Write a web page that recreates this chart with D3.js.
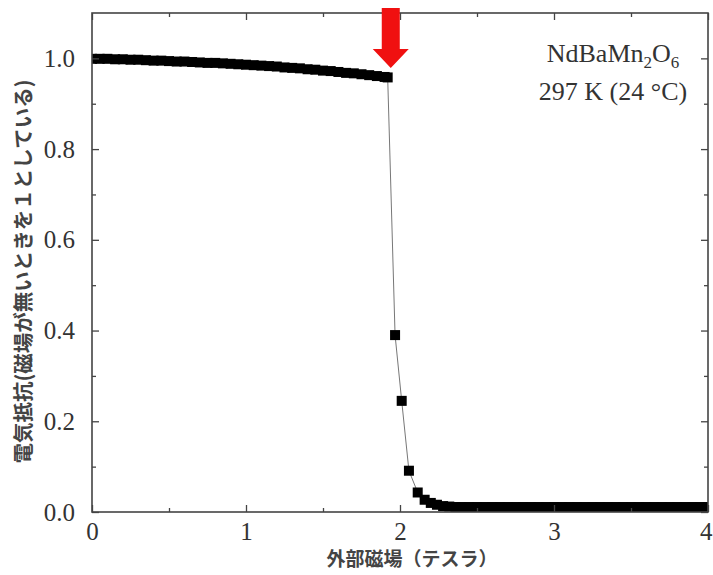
<!DOCTYPE html>
<html><head><meta charset="utf-8">
<script src="https://cdn.jsdelivr.net/npm/d3@7"></script>
<style>body{margin:0;background:#fff}svg{display:block}</style>
</head><body><svg id="c" width="713" height="575"></svg>
<script>
// ---- data ----
const fieldT = [
  0.00,0.05,0.10,0.15,0.20,0.25,0.30,0.35,0.40,0.45,0.50,0.55,0.60,0.65,0.70,0.75,0.80,0.85,0.90,0.95,
  1.00,1.05,1.10,1.15,1.20,1.25,1.30,1.35,1.40,1.45,1.50,1.55,1.60,1.65,1.70,1.75,1.80,1.85,1.90,1.92,
  1.968,2.011,2.058,2.115,2.16,2.20,2.24,2.28,2.32,2.36,2.40,
  2.45,2.50,2.55,2.60,2.65,2.70,2.75,2.80,2.85,2.90,2.95,3.00,3.05,3.10,3.15,3.20,
  3.25,3.30,3.35,3.40,3.45,3.50,3.55,3.60,3.65,3.70,3.75,3.80,3.85,3.90,3.95,4.00
];
const resistance = [
  0.999,0.999,0.999,0.998,0.998,0.997,0.997,0.996,0.995,0.995,0.994,0.993,0.993,0.992,0.991,0.990,0.990,0.989,0.988,0.987,
  0.986,0.985,0.984,0.983,0.982,0.980,0.979,0.978,0.976,0.975,0.973,0.972,0.970,0.968,0.967,0.965,0.963,0.961,0.959,0.958,
  0.390,0.245,0.091,0.043,0.027,0.020,0.016,0.013,0.012,0.011,0.011,
  0.011,0.011,0.011,0.011,0.011,0.011,0.011,0.011,0.011,0.011,0.011,0.011,0.011,0.011,0.011,0.011,
  0.011,0.011,0.011,0.011,0.011,0.011,0.011,0.011,0.011,0.011,0.011,0.011,0.011,0.011,0.011,0.011
];
const xTicks = [0,1,2,3,4];
const xMinorTicks = [0.5,1.5,2.5,3.5];
const yTicks = [0.0,0.2,0.4,0.6,0.8,1.0];
const yMinorTicks = [0.1,0.3,0.5,0.7,0.9];
const xTitle = "外部磁場（テスラ）";
const yTitle = "電気抵抗(磁場が無いときを１としている)";
const arrowField = 1.94;
const arrowTipValue = 0.979;

// ---- layout ----
const svg = d3.select("#c");
const L = 92, R = 708, T = 13, B = 512;
const x = d3.scaleLinear().domain([0,4]).range([L,R]);
const y = d3.scaleLinear().domain([0,1.1]).range([B,T]);
const axisColor = "#444";
const serif = "'Liberation Serif','Times New Roman',serif";
const jp = "'Noto Sans CJK JP','Noto Sans',sans-serif";

svg.append("defs").append("clipPath").attr("id","clip")
  .append("rect").attr("x",L).attr("y",T).attr("width",R-L).attr("height",B-T);

const data = fieldT.map((f,i)=>({f, r: resistance[i]}));

const plot = svg.append("g").attr("clip-path","url(#clip)");
plot.append("path").datum(data)
  .attr("fill","none").attr("stroke","#777").attr("stroke-width",1)
  .attr("d", d3.line().x(d=>x(d.f)).y(d=>y(d.r)));
const ms = 10;
plot.selectAll("rect.pt").data(data).join("rect").attr("class","pt")
  .attr("x",d=>x(d.f)-ms/2).attr("y",d=>y(d.r)-ms/2)
  .attr("width",ms).attr("height",ms).attr("fill","#000");

function styleAxis(g){
  g.select(".domain").remove();
  g.selectAll(".tick line").attr("stroke",axisColor).attr("stroke-width",1.3);
}
const gBottom = svg.append("g").attr("transform",`translate(0,${B})`)
  .call(d3.axisBottom(x).tickValues(xTicks).tickSize(-7).tickPadding(10).tickFormat(d3.format("d")));
styleAxis(gBottom);
gBottom.selectAll("text").attr("font-family",serif).attr("font-size",25).attr("fill","#333");
// keep the last label inside the page edge
gBottom.selectAll(".tick").filter(d => d === 4).select("text").attr("text-anchor","end").attr("x",4);
const gBottomMinor = svg.append("g").attr("transform",`translate(0,${B})`)
  .call(d3.axisBottom(x).tickValues(xMinorTicks).tickSize(-4).tickFormat(""));
styleAxis(gBottomMinor);

const gTop = svg.append("g").attr("transform",`translate(0,${T})`)
  .call(d3.axisTop(x).tickValues(xTicks).tickSize(-7).tickFormat(""));
styleAxis(gTop);
const gTopMinor = svg.append("g").attr("transform",`translate(0,${T})`)
  .call(d3.axisTop(x).tickValues(xMinorTicks).tickSize(-4).tickFormat(""));
styleAxis(gTopMinor);

const gLeft = svg.append("g").attr("transform",`translate(${L},0)`)
  .call(d3.axisLeft(y).tickValues(yTicks).tickSize(-7).tickPadding(17).tickFormat(d3.format(".1f")));
styleAxis(gLeft);
gLeft.selectAll("text").attr("font-family",serif).attr("font-size",25).attr("fill","#333");
const gLeftMinor = svg.append("g").attr("transform",`translate(${L},0)`)
  .call(d3.axisLeft(y).tickValues(yMinorTicks).tickSize(-4).tickFormat(""));
styleAxis(gLeftMinor);

const gRight = svg.append("g").attr("transform",`translate(${R},0)`)
  .call(d3.axisRight(y).tickValues(yTicks).tickSize(-7).tickFormat(""));
styleAxis(gRight);
const gRightMinor = svg.append("g").attr("transform",`translate(${R},0)`)
  .call(d3.axisRight(y).tickValues(yMinorTicks).tickSize(-4).tickFormat(""));
styleAxis(gRightMinor);

svg.append("rect").attr("x",L).attr("y",T).attr("width",R-L).attr("height",B-T)
  .attr("fill","none").attr("stroke",axisColor).attr("stroke-width",1.6);

const ax = x(arrowField), ay = y(arrowTipValue);
const sw = 9, hw = 18, hl = 19, topY = 8;
svg.append("path")
  .attr("d", `M${ax-sw},${topY} L${ax+sw},${topY} L${ax+sw},${ay-hl} L${ax+hw},${ay-hl} L${ax},${ay} L${ax-hw},${ay-hl} L${ax-sw},${ay-hl} Z`)
  .attr("fill","#f01010");

const lab = svg.append("text").attr("x",613).attr("y",62).attr("text-anchor","middle")
  .attr("font-family",serif).attr("font-size",26).attr("fill","#333");
lab.append("tspan").text("NdBaMn");
lab.append("tspan").text("2").attr("font-size",17).attr("dy",6);
lab.append("tspan").text("O").attr("dy",-6);
lab.append("tspan").text("6").attr("font-size",17).attr("dy",6);
svg.append("text").attr("x",613).attr("y",100).attr("text-anchor","middle")
  .attr("font-family",serif).attr("font-size",26).attr("fill","#333")
  .text("297 K (24 °C)");

svg.append("text").attr("x",(L+R)/2+12).attr("y",566).attr("text-anchor","middle")
  .attr("font-family",jp).attr("font-weight","bold").attr("font-size",19).attr("fill","#444")
  .text(xTitle);
svg.append("text").attr("transform",`translate(31,${(T+B)/2+9}) rotate(-90)`).attr("text-anchor","middle")
  .attr("font-family",jp).attr("font-weight","bold").attr("font-size",20.5).attr("fill","#444")
  .text(yTitle);
</script></body></html>
